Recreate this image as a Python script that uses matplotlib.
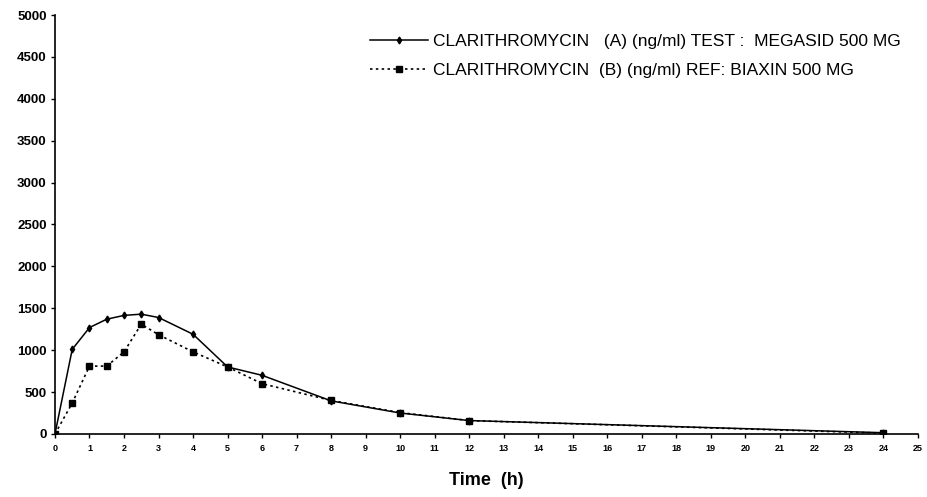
import matplotlib
matplotlib.use("Agg")
import matplotlib.pyplot as plt

# Sampling times (h)
time_h = [0, 0.5, 1, 1.5, 2, 2.5, 3, 4, 5, 6, 8, 10, 12, 24]

# Plasma concentration (ng/ml)
conc_test = [0, 1010, 1270, 1370, 1415, 1430, 1390, 1190, 800, 700, 395, 250, 160, 15]
conc_ref = [0, 370, 810, 810, 980, 1310, 1185, 980, 800, 600, 400, 255, 160, 10]

label_test = "CLARITHROMYCIN   (A) (ng/ml) TEST :  MEGASID 500 MG"
label_ref = "CLARITHROMYCIN  (B) (ng/ml) REF: BIAXIN 500 MG"

x_ticks = list(range(0, 26))
y_ticks = list(range(0, 5001, 500))

plt.rcParams['font.family'] = ['Liberation Sans', 'DejaVu Sans']

fig = plt.figure(figsize=(9.27, 4.97), dpi=100)
ax = fig.add_axes([0.0593, 0.1268, 0.931, 0.843])

ax.plot(time_h, conc_test, color='black', linewidth=1.1, marker='d',
        markersize=3.5, label=label_test)
ax.plot(time_h, conc_ref, color='black', linewidth=1.2, linestyle=(0, (1.5, 2)),
        marker='s', markersize=5, label=label_ref)

ax.set_xlim(0, 25)
ax.set_ylim(0, 5000)
ax.set_xticks(x_ticks)
ax.set_yticks(y_ticks)
ax.tick_params(axis='x', labelsize=6.5, length=3, width=1, pad=4)
ax.tick_params(axis='y', labelsize=9.5, length=3, width=1, pad=3)
for lab in ax.get_xticklabels() + ax.get_yticklabels():
    lab.set_fontweight('bold')

ax.spines['top'].set_visible(False)
ax.spines['right'].set_visible(False)
ax.spines['left'].set_linewidth(1.2)
ax.spines['bottom'].set_linewidth(1.2)

ax.set_xlabel("Time  (h)", fontsize=13, fontweight='bold', labelpad=14)

ax.legend(loc='upper left', bbox_to_anchor=(0.392, 0.945), bbox_transform=fig.transFigure,
          borderaxespad=0, frameon=False, fontsize=12.5, handlelength=3.3,
          handletextpad=0.3, labelspacing=0.75)

fig.savefig("out.png", dpi=100)
